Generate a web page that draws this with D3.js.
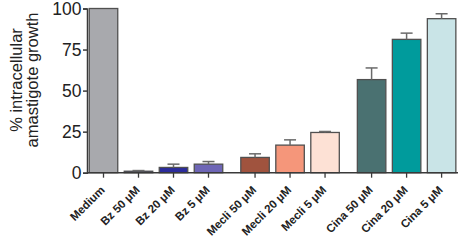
<!DOCTYPE html>
<html>
<head>
<meta charset="utf-8">
<script src="https://cdn.jsdelivr.net/npm/d3@7"></script>
<style>
  body { margin: 0; background: #fff; }
  svg { display: block; font-family: "Liberation Sans", Arial, sans-serif; }
</style>
</head>
<body>
<svg class="chart"></svg>
<script>
const categories = ["Medium", "Bz 50 μM", "Bz 20 μM", "Bz 5 μM", "Mecli 50 μM", "Mecli 20 μM", "Mecli 5 μM", "Cina 50 μM", "Cina 20 μM", "Cina 5 μM"];
const groupIndex = [0, 0, 0, 0, 1, 1, 1, 2, 2, 2];
const values = [100, 0.9, 3.2, 5.2, 9.3, 16.8, 24.5, 56.7, 81.2, 93.8];
const errors = [0, 0.4, 2.0, 1.6, 2.2, 3.2, 0.6, 7.1, 3.8, 3.0];
const colors = ["#a8a9ad", "#1c1c5c", "#2c2c9c", "#6e66b6", "#a0533e", "#f5967a", "#fde1d5", "#4a7171", "#009b9c", "#c9e4e7"];
const yTicks = [0, 25, 50, 75, 100];

document.addEventListener('DOMContentLoaded', function() {
    const width = 461;
    const height = 240;
    const svg = d3.select('.chart')
        .attr('width', width)
        .attr('height', height);

    const gap = 0.33;
    const data = categories.map((c, i) => ({
        name: c,
        slot: i + groupIndex[i] * gap,
        value: values[i],
        err: errors[i],
        color: colors[i]
    }));

    const x = d3.scaleLinear()
        .domain([0, 1])
        .range([103.5, 138.5]);

    const y = d3.scaleLinear()
        .domain([0, 100])
        .range([172.7, 8.5]);

    const barW = 28.5;
    const axisColor = "#3a3a3a";

    // y axis
    const yAxis = svg.append('g')
        .attr('transform', 'translate(87,0)')
        .call(d3.axisLeft(y).tickValues(yTicks).tickSize(4).tickPadding(1.5));
    yAxis.select('.domain').attr('stroke', axisColor).attr('stroke-width', 1.5);
    yAxis.selectAll('.tick line').attr('stroke', axisColor).attr('stroke-width', 1.5);
    yAxis.selectAll('.tick text')
        .attr('fill', '#222')
        .style('font-size', '17.5px')
        .attr('font-family', '"Liberation Sans", Arial, sans-serif');

    // bars
    svg.selectAll('.bar')
        .data(data)
        .enter().append('rect')
        .attr('class', 'bar')
        .attr('x', d => x(d.slot) - barW / 2)
        .attr('y', d => y(d.value))
        .attr('width', barW)
        .attr('height', d => y(0) - y(d.value))
        .attr('fill', d => d.color)
        .attr('stroke', '#505050')
        .attr('stroke-width', 1.3);

    // error bars (upper only)
    const err = svg.selectAll('.err')
        .data(data.filter(d => d.err > 0))
        .enter().append('g')
        .attr('class', 'err')
        .attr('stroke', '#6a6a6a')
        .attr('stroke-width', 1.5);
    err.append('line')
        .attr('x1', d => x(d.slot))
        .attr('x2', d => x(d.slot))
        .attr('y1', d => y(d.value))
        .attr('y2', d => y(d.value + d.err));
    err.append('line')
        .attr('x1', d => x(d.slot) - 6)
        .attr('x2', d => x(d.slot) + 6)
        .attr('y1', d => y(d.value + d.err))
        .attr('y2', d => y(d.value + d.err));

    // baseline
    svg.append('line')
        .attr('x1', 87).attr('x2', 458)
        .attr('y1', y(0)).attr('y2', y(0))
        .attr('stroke', axisColor)
        .attr('stroke-width', 1.5);

    // x ticks and labels
    const xt = svg.selectAll('.xt')
        .data(data)
        .enter().append('g')
        .attr('class', 'xt')
        .attr('transform', d => `translate(${x(d.slot)},${y(0)})`);
    xt.append('line')
        .attr('y1', 0).attr('y2', 5)
        .attr('stroke', axisColor)
        .attr('stroke-width', 1.3);
    xt.append('text')
        .attr('transform', 'translate(2,18) rotate(-45)')
        .attr('text-anchor', 'end')
        .attr('font-size', 11.5)
        .attr('font-weight', 'bold')
        .attr('fill', '#222')
        .text(d => d.name);

    // y label
    const yl = svg.append('text')
        .attr('transform', 'translate(22,80) rotate(-90)')
        .attr('text-anchor', 'middle')
        .attr('font-size', 16.5)
        .attr('fill', '#222');
    yl.append('tspan').attr('x', 0).attr('dy', 0).text('% intracellular');
    yl.append('tspan').attr('x', 0).attr('dy', 15.5).text('amastigote growth');
});
</script>
</body>
</html>
